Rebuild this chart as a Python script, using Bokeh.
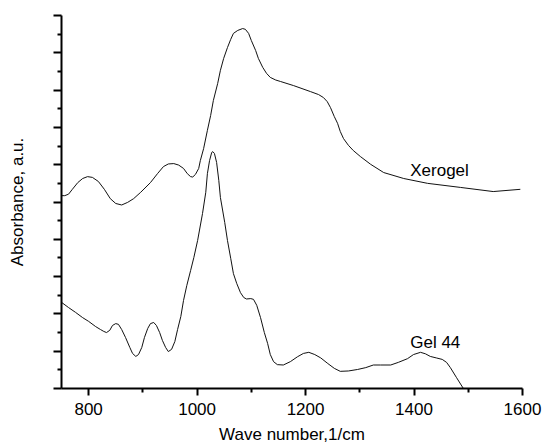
from bokeh.plotting import figure
from bokeh.models import Range1d, FixedTicker, Label
from bokeh.embed import file_html
from bokeh.resources import INLINE

# Xerogel spectrum (wave number 1/cm, absorbance a.u.)
xerogel_wn = [750, 756, 763, 770, 780, 789, 798, 807, 818, 829, 840, 850, 861, 872, 883,
              896, 914, 927, 938, 947, 957, 966, 975, 982, 988, 992, 997, 1003, 1006, 1012,
              1019, 1025, 1030, 1038, 1043, 1049, 1056, 1062, 1067, 1075, 1084, 1089, 1095,
              1100, 1108, 1113, 1121, 1128, 1135, 1145, 1154, 1178, 1209, 1224, 1233, 1240,
              1246, 1253, 1259, 1264, 1270, 1279, 1288, 1301, 1320, 1344, 1381, 1425, 1486,
              1546, 1596]
xerogel_abs = [5.17, 5.17, 5.21, 5.34, 5.52, 5.63, 5.68, 5.66, 5.55, 5.34, 5.09, 4.96, 4.92,
               4.99, 5.09, 5.26, 5.52, 5.76, 5.95, 6.02, 6.03, 5.99, 5.90, 5.76, 5.68, 5.67,
               5.74, 5.90, 6.11, 6.43, 6.92, 7.32, 7.72, 8.18, 8.53, 8.85, 9.14, 9.36, 9.52,
               9.60, 9.65, 9.63, 9.52, 9.33, 9.06, 8.85, 8.61, 8.45, 8.34, 8.27, 8.23, 8.12,
               7.96, 7.88, 7.80, 7.69, 7.53, 7.29, 7.11, 6.89, 6.70, 6.52, 6.38, 6.22, 6.01,
               5.79, 5.63, 5.50, 5.39, 5.28, 5.34]

# Gel 44 spectrum
gel_wn = [750, 763, 776, 789, 800, 813, 822, 828, 833, 839, 844, 850, 855, 861, 868, 876,
          881, 887, 892, 898, 903, 909, 914, 920, 925, 931, 936, 942, 947, 953, 959, 964,
          970, 975, 981, 988, 994, 1001, 1010, 1016, 1019, 1023, 1027, 1029, 1032, 1036,
          1040, 1043, 1051, 1056, 1062, 1067, 1073, 1080, 1086, 1091, 1099, 1104, 1110,
          1117, 1124, 1130, 1135, 1141, 1148, 1159, 1172, 1185, 1196, 1206, 1217, 1228,
          1241, 1253, 1264, 1279, 1296, 1311, 1325, 1338, 1357, 1371, 1388, 1399, 1412,
          1421, 1430, 1441, 1452, 1460, 1467, 1478, 1491]
gel_abs = [2.31, 2.17, 2.04, 1.90, 1.80, 1.66, 1.58, 1.53, 1.50, 1.56, 1.69, 1.74, 1.72,
           1.58, 1.37, 1.10, 0.94, 0.86, 0.91, 1.10, 1.37, 1.61, 1.74, 1.77, 1.69, 1.50,
           1.29, 1.10, 0.99, 1.05, 1.26, 1.58, 1.93, 2.36, 2.76, 3.16, 3.51, 3.97, 4.69,
           5.26, 5.76, 6.11, 6.33, 6.35, 6.30, 6.06, 5.58, 5.12, 4.45, 3.97, 3.49, 3.08,
           2.82, 2.57, 2.44, 2.40, 2.41, 2.39, 2.23, 1.90, 1.50, 1.21, 0.91, 0.72, 0.64,
           0.63, 0.72, 0.85, 0.94, 0.97, 0.91, 0.82, 0.67, 0.54, 0.46, 0.47, 0.51, 0.56,
           0.63, 0.63, 0.63, 0.70, 0.80, 0.91, 0.97, 0.93, 0.86, 0.82, 0.78, 0.70, 0.56,
           0.30, 0.00]

x_major = [800, 1000, 1200, 1400, 1600]
x_minor = [900, 1100, 1300, 1500]
y_major = [0, 1, 2, 3, 4, 5, 6, 7, 8, 9, 10]
y_minor = [0.5, 1.5, 2.5, 3.5, 4.5, 5.5, 6.5, 7.5, 8.5, 9.5]

FONT = "Liberation Sans"

p = figure(width=543, height=447, output_backend="svg", toolbar_location=None,
           x_range=Range1d(750, 1600), y_range=Range1d(0, 10))
p.min_border_left = 61
p.min_border_right = 21
p.min_border_top = 15
p.min_border_bottom = 59
p.outline_line_color = None
p.grid.visible = False
p.background_fill_color = "white"
p.border_fill_color = "white"

p.line(xerogel_wn, xerogel_abs, line_color="#111111", line_width=1)
p.line(gel_wn, gel_abs, line_color="#111111", line_width=1)

xa = p.xaxis[0]
xa.ticker = FixedTicker(ticks=x_major, minor_ticks=x_minor)
xa.axis_line_width = 2
xa.axis_line_color = "black"
xa.major_tick_line_width = 2
xa.minor_tick_line_width = 2
xa.major_tick_in = 0
xa.major_tick_out = 7
xa.minor_tick_in = 0
xa.minor_tick_out = 4
xa.major_label_text_font = FONT
xa.major_label_text_font_size = "17px"
xa.major_label_text_color = "black"
xa.major_label_standoff = 7
xa.axis_label = "Wave number,1/cm"
xa.axis_label_text_font = FONT
xa.axis_label_text_font_size = "17px"
xa.axis_label_text_font_style = "normal"
xa.axis_label_text_color = "black"
xa.axis_label_standoff = 7

ya = p.yaxis[0]
ya.ticker = FixedTicker(ticks=y_major, minor_ticks=y_minor)
ya.axis_line_width = 2
ya.axis_line_color = "black"
ya.major_tick_line_width = 2
ya.minor_tick_line_width = 2
ya.major_tick_in = 0
ya.major_tick_out = 8
ya.minor_tick_in = 0
ya.minor_tick_out = 4
ya.major_label_text_font_size = "1px"
ya.major_label_text_color = None
ya.major_label_standoff = 0
ya.axis_label = "Absorbance, a.u."
ya.axis_label_text_font = FONT
ya.axis_label_text_font_size = "17px"
ya.axis_label_text_font_style = "normal"
ya.axis_label_text_color = "black"
ya.axis_label_standoff = 27

p.add_layout(Label(x=1393, y=5.84, text="Xerogel", text_font=FONT,
                   text_font_size="17px", text_color="black", text_baseline="alphabetic"))
p.add_layout(Label(x=1393, y=1.23, text="Gel 44", text_font=FONT,
                   text_font_size="17px", text_color="black", text_baseline="alphabetic"))

open("out.html", "w").write(file_html(p, INLINE))
